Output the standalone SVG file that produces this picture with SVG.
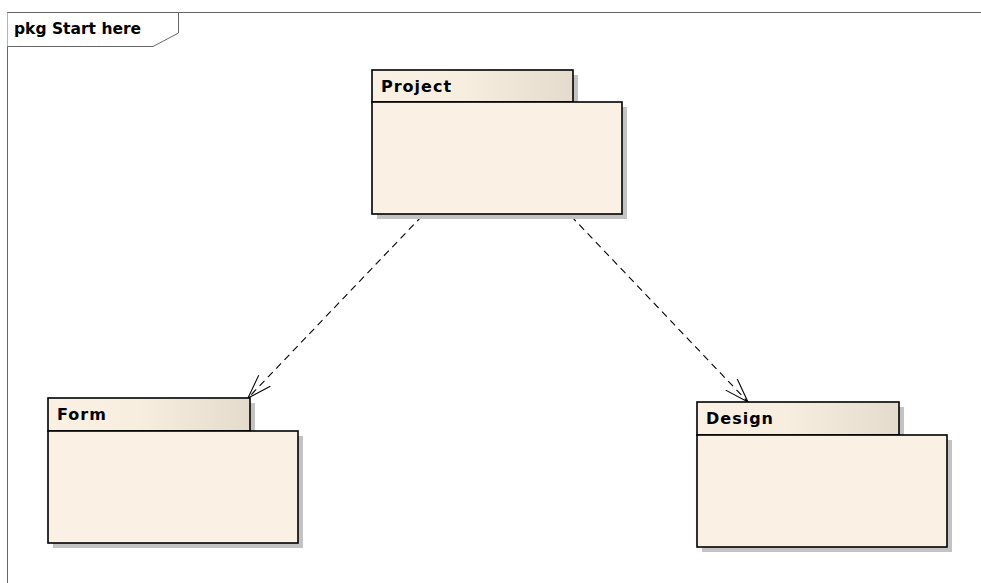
<svg xmlns="http://www.w3.org/2000/svg" width="981" height="583" viewBox="0 0 981 583">
<defs>
<linearGradient id="tabg" x1="0" y1="0" x2="1" y2="0">
<stop offset="0" stop-color="#FAF0E3"/>
<stop offset="0.45" stop-color="#F8EEE0"/>
<stop offset="1" stop-color="#E4DBCC"/>
</linearGradient>
<marker id="open" viewBox="0 0 30 30" refX="26" refY="15" markerWidth="30" markerHeight="30" markerUnits="userSpaceOnUse" orient="auto">
<path d="M2,7 L26,15 L2,23" fill="none" stroke="#000" stroke-width="1.1"/>
</marker>
<style>
.sh{fill:#C3C3C3}
.tab{fill:url(#tabg);stroke:#000;stroke-width:1.6}
.body{fill:#FAF0E3;stroke:#000;stroke-width:1.6}
.lbl{font-family:"DejaVu Sans",Verdana,sans-serif;font-weight:bold;font-size:16px;letter-spacing:1px;fill:#000}
.conn{fill:none;stroke:#000;stroke-width:1.1;stroke-dasharray:7,5}
</style>
</defs>
<rect x="0" y="0" width="981" height="583" fill="#fff"/>
<g id="frame">
<path d="M7.5,583 L7.5,12.5 L981,12.5" fill="none" stroke="#666" stroke-width="1"/>
<path d="M7.5,12.5 L178.5,12.5 L178.5,33 L153,46.5 L7.5,46.5" fill="#fff" stroke="#666" stroke-width="1"/>
<text x="14" y="34" font-family="'DejaVu Sans',Verdana,sans-serif" font-weight="bold" font-size="15.5" fill="#000">pkg Start here</text>
</g>
<g id="connectors">
<line class="conn" x1="422" y1="216" x2="248" y2="398" marker-end="url(#open)"/>
<line class="conn" x1="571" y1="216" x2="748" y2="402" marker-end="url(#open)"/>
</g>
<g id="project">
<rect class="sh" x="377" y="75" width="201" height="32"/>
<rect class="sh" x="377" y="107" width="250" height="112"/>
<rect class="tab" x="372" y="70" width="201" height="32"/>
<rect class="body" x="372" y="102" width="250" height="112"/>
<text class="lbl" x="381" y="92">Project</text>
</g>
<g id="form">
<rect class="sh" x="53" y="403" width="202" height="33"/>
<rect class="sh" x="53" y="436" width="250" height="112"/>
<rect class="tab" x="48" y="398" width="202" height="33"/>
<rect class="body" x="48" y="431" width="250" height="112"/>
<text class="lbl" x="57" y="420">Form</text>
</g>
<g id="design">
<rect class="sh" x="702" y="407" width="202" height="33"/>
<rect class="sh" x="702" y="440" width="250" height="112"/>
<rect class="tab" x="697" y="402" width="202" height="33"/>
<rect class="body" x="697" y="435" width="250" height="112"/>
<text class="lbl" x="706" y="424">Design</text>
</g>
</svg>
